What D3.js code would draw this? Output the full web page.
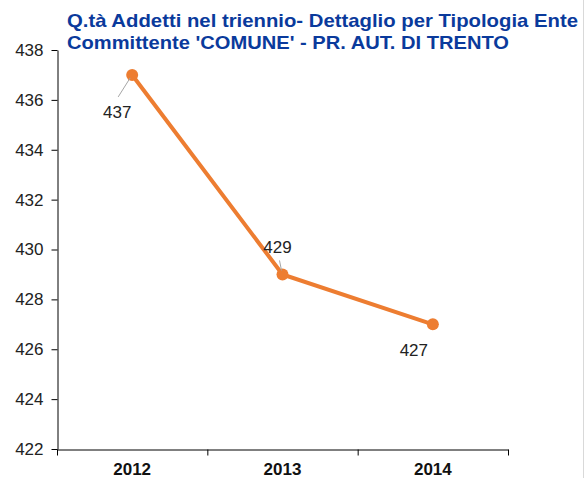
<!DOCTYPE html>
<html>
<head>
<meta charset="utf-8">
<script src="https://cdn.jsdelivr.net/npm/d3@7"></script>
<style>
  body { margin: 0; background: #fff; }
  svg { display: block; font-family: Arial, "Liberation Sans", sans-serif; }
</style>
</head>
<body>
<div id="chart"></div>
<script>
var years = ['2012', '2013', '2014'];
var addetti = [437, 429, 427];
var yTicks = [422, 424, 426, 428, 430, 432, 434, 436, 438];
var titleLines = [
  "Q.tà Addetti nel triennio- Dettaglio per Tipologia Ente",
  "Committente 'COMUNE' - PR. AUT. DI TRENTO"
];

var W = 585, H = 478;
var m = { left: 57, right: 77, top: 50, bottom: 29 };

var svg = d3.select('#chart').append('svg')
  .attr('width', W)
  .attr('height', H);

// right frame edge
svg.append('line')
  .attr('x1', W - 1.5).attr('x2', W - 1.5)
  .attr('y1', 0).attr('y2', H)
  .attr('stroke', '#d9d9d9').attr('stroke-width', 1);

var x = d3.scaleBand().domain(years).range([m.left, W - m.right]);
var y = d3.scaleLinear().domain([422, 438]).range([H - m.bottom, m.top]);

// y axis
var yAxis = svg.append('g')
  .attr('transform', 'translate(' + (m.left + 0.5) + ',0)')
  .call(d3.axisLeft(y).tickValues(yTicks).tickSize(6).tickPadding(8).tickSizeOuter(0));
yAxis.select('.domain').attr('stroke', '#000');
yAxis.selectAll('.tick line').attr('stroke', '#000');
yAxis.selectAll('.tick text')
  .attr('font-size', 17).attr('fill', '#222');

// x axis
var xAxis = svg.append('g')
  .attr('transform', 'translate(0,' + (H - m.bottom + 0.5) + ')')
  .call(d3.axisBottom(x).tickSize(0).tickPadding(13));
xAxis.select('.domain').attr('stroke', '#000');
xAxis.selectAll('.tick line').remove();
xAxis.selectAll('.tick text')
  .attr('font-size', 17).attr('font-weight', 'bold').attr('fill', '#111');
// boundary ticks between categories
xAxis.selectAll('.bound')
  .data(years.concat(['end']))
  .enter().append('line')
  .attr('class', 'bound')
  .attr('x1', function(d, i) { return m.left + 0.5 + i * x.bandwidth(); })
  .attr('x2', function(d, i) { return m.left + 0.5 + i * x.bandwidth(); })
  .attr('y1', 0).attr('y2', 6)
  .attr('stroke', '#000');

var cx = function(d, i) { return x(years[i]) + x.bandwidth() / 2; };

// line
svg.append('path')
  .datum(addetti)
  .attr('fill', 'none')
  .attr('stroke', '#ED7D31')
  .attr('stroke-width', 4)
  .attr('d', d3.line().x(cx).y(function(d) { return y(d); }));

svg.selectAll('.pt')
  .data(addetti)
  .enter().append('circle')
  .attr('class', 'pt')
  .attr('cx', cx)
  .attr('cy', function(d) { return y(d); })
  .attr('r', 6)
  .attr('fill', '#ED7D31');

// data labels (offsets relative to point)
var lblOff = [[-15, 43], [-5, -21], [-19, 32]];
var leaders = [[[-2, 3], [-14, 22]], [[-1, -4], [-3, -14]], null];

addetti.forEach(function(d, i) {
  if (!leaders[i]) return;
  svg.append('line')
    .attr('stroke', '#a6a6a6').attr('stroke-width', 1)
    .attr('x1', cx(d, i) + leaders[i][0][0])
    .attr('y1', y(d) + leaders[i][0][1])
    .attr('x2', cx(d, i) + leaders[i][1][0])
    .attr('y2', y(d) + leaders[i][1][1]);
});

svg.selectAll('.lbl')
  .data(addetti)
  .enter().append('text')
  .attr('class', 'lbl')
  .attr('x', function(d, i) { return cx(d, i) + lblOff[i][0]; })
  .attr('y', function(d, i) { return y(d) + lblOff[i][1]; })
  .attr('text-anchor', 'middle')
  .attr('font-size', 17)
  .attr('fill', '#222')
  .text(function(d) { return d; });

// title
var titleW = [511, 442];
svg.selectAll('.title')
  .data(titleLines)
  .enter().append('text')
  .attr('class', 'title')
  .attr('x', 67)
  .attr('y', function(d, i) { return 27 + i * 22; })
  .attr('font-size', 19)
  .attr('font-weight', 'bold')
  .attr('fill', '#0A3A9C')
  .attr('textLength', function(d, i) { return titleW[i]; })
  .attr('lengthAdjust', 'spacingAndGlyphs')
  .text(function(d) { return d; });
</script>
</body>
</html>
